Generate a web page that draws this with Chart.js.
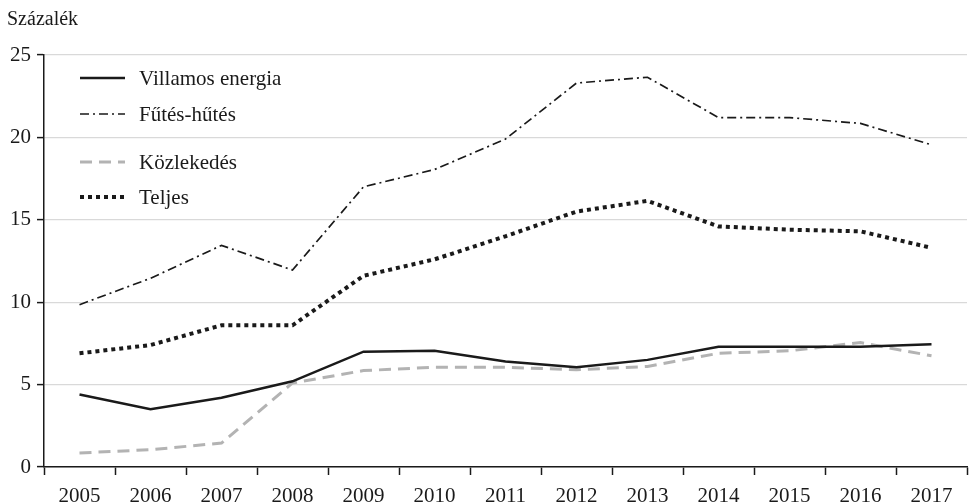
<!DOCTYPE html>
<html><head><meta charset="utf-8">
<script src="https://cdn.jsdelivr.net/npm/chart.js@4"></script>
<style>html,body{margin:0;padding:0;background:#fff}#wrap{width:970px;height:504px;position:relative}</style>
</head><body><div id="wrap"><canvas id="c"></canvas></div>
<script>
const years = ['2005','2006','2007','2008','2009','2010','2011','2012','2013','2014','2015','2016','2017'];
const villamos = [4.4,3.5,4.2,5.2,7.0,7.05,6.4,6.05,6.5,7.3,7.3,7.3,7.45];
const futes = [9.85,11.45,13.45,11.95,17.0,18.05,19.9,23.3,23.65,21.2,21.2,20.85,19.55];
const kozlekedes = [0.85,1.05,1.45,5.1,5.85,6.05,6.05,5.9,6.1,6.9,7.05,7.55,6.75];
const teljes = [6.9,7.4,8.6,8.6,11.6,12.6,14.0,15.5,16.15,14.6,14.4,14.3,13.3];
const yTicks = [0,5,10,15,20,25];
const FONT = '"Liberation Serif", "DejaVu Serif", serif';

const legendPlugin = {
  id:'customLegend',
  afterDraw(chart){
    const ctx = chart.ctx;
    const rows = [78,114,162,197];
    ctx.save();
    chart.data.datasets.forEach((ds,i)=>{
      const y = rows[i];
      ctx.beginPath();
      ctx.strokeStyle = ds.borderColor;
      ctx.lineWidth = ds.borderWidth;
      ctx.setLineDash(ds.borderDash||[]);
      ctx.lineCap = 'butt';
      ctx.moveTo(80,y); ctx.lineTo(125,y); ctx.stroke();
      ctx.setLineDash([]);
      ctx.fillStyle = '#1a1a1a';
      ctx.font = '21px '+FONT;
      ctx.textBaseline = 'middle';
      ctx.textAlign = 'left';
      ctx.fillText(ds.label,139,y+1);
    });
    ctx.font = '20px '+FONT;
    ctx.textBaseline = 'middle';
    ctx.fillText('Százalék',7,20);
    ctx.restore();
  }
};

new Chart(document.getElementById('c'),{
  type:'line',
  data:{labels:years,datasets:[
    {label:'Villamos energia',data:villamos,borderColor:'#1a1a1a',borderWidth:2.5,pointRadius:0,tension:0},
    {label:'Fűtés-hűtés',data:futes,borderColor:'#1a1a1a',borderWidth:1.7,borderDash:[9,4,2,4],pointRadius:0,tension:0},
    {label:'Közlekedés',data:kozlekedes,borderColor:'#b3b3b3',borderWidth:3,borderDash:[12,7],pointRadius:0,tension:0},
    {label:'Teljes',data:teljes,borderColor:'#1a1a1a',borderWidth:4,borderDash:[4,4],pointRadius:0,tension:0}
  ]},
  options:{
    responsive:true,maintainAspectRatio:false,animation:false,
    layout:{padding:{left:0,right:3,top:55,bottom:0}},
    plugins:{legend:{display:false},tooltip:{enabled:false}},
    scales:{
      x:{offset:true,
        grid:{offset:true,drawOnChartArea:false,drawTicks:true,tickLength:8,tickColor:'#1a1a1a',tickWidth:1.5},
        border:{color:'#1a1a1a',width:1.5},
        ticks:{color:'#1a1a1a',font:{family:FONT,size:21},padding:9,maxRotation:0,autoSkip:false},
        afterFit(s){s.height=37;}
      },
      y:{min:0,max:25,afterBuildTicks(s){s.ticks=yTicks.map(v=>({value:v}));},
        grid:{color:'#d9d9d9',lineWidth:1.2,drawTicks:true,tickLength:7,tickColor:'#1a1a1a',tickWidth:1.5},
        border:{color:'#1a1a1a',width:1.5},
        ticks:{color:'#1a1a1a',font:{family:FONT,size:21},padding:6},
        afterFit(s){s.width=44;}
      }
    }
  },
  plugins:[legendPlugin]
});
</script></body></html>
